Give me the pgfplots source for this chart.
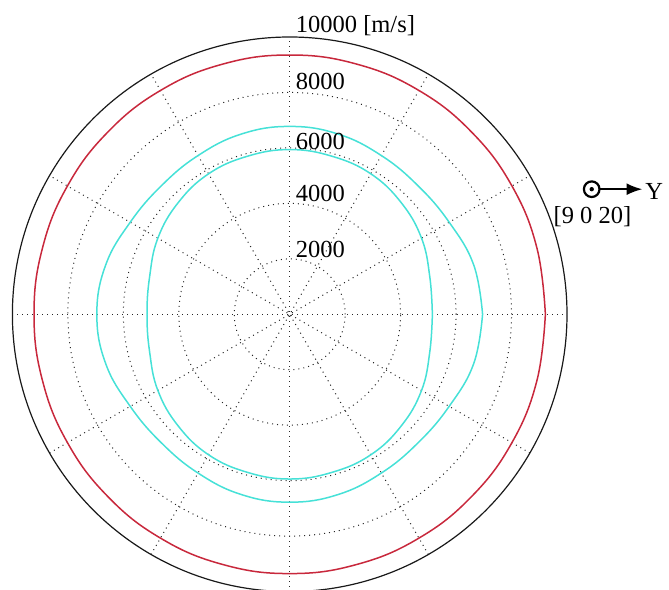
\documentclass[border=0pt]{standalone}
\usepackage{pgfplots}
\usepackage{pgfplotstable}
\pgfplotsset{compat=1.18}
\usetikzlibrary{arrows.meta}
\usepackage{fontspec}
\setmainfont{Liberation Serif}

\definecolor{pwave}{RGB}{200,40,60}
\definecolor{swave}{RGB}{70,225,215}
\tikzset{gridline/.style={black!85, line width=0.5pt, dotted}}

% phase velocities in the plane, angle [deg] vs. speed [m/s]
\pgfplotstableread{
ang   qP     qS1    qS2
0     9220   6955   5145
15    9230   6870   5230
30    9255   6640   5490
45    9285   6550   5690
60    9320   6610   5850
75    9340   6730   5900
90    9350   6775   5940
105   9340   6730   5900
120   9320   6610   5850
135   9285   6550   5690
150   9255   6640   5490
165   9230   6870   5230
180   9220   6955   5145
195   9230   6870   5230
210   9255   6640   5490
225   9285   6550   5690
240   9320   6610   5850
255   9340   6730   5900
270   9350   6775   5940
285   9340   6730   5900
300   9320   6610   5850
315   9285   6550   5690
330   9255   6640   5490
345   9230   6870   5230
360   9220   6955   5145
}\velocities

\begin{document}
\begin{tikzpicture}[x=0.5pt,y=0.5pt]
\begin{axis}[
  at={(144.85pt,137.35pt)}, anchor=origin,
  width=277.3pt, height=277.3pt, scale only axis,
  xmin=-10000, xmax=10000, ymin=-10000, ymax=10000,
  axis lines=none, clip=false,
  % 15-degree steps: a higher tension keeps the curves round between samples
  curve/.style={line width=0.75pt, smooth, tension=0.7},
]
  % radial rings
  \pgfplotsinvokeforeach{2000,4000,6000,8000}{
    \draw[gridline] (axis cs:0,0) circle[radius=#1];
  }
  % spokes every 30 degrees
  \draw[gridline] (axis cs:-10000,0) -- (axis cs:10000,0);
  \draw[gridline] (axis cs:-8660.3,-5000) -- (axis cs:8660.3,5000);
  \draw[gridline] (axis cs:-5000,-8660.3) -- (axis cs:5000,8660.3);
  \draw[gridline] (axis cs:0,-10000) -- (axis cs:0,10000);
  \draw[gridline] (axis cs:5000,-8660.3) -- (axis cs:-5000,8660.3);
  \draw[gridline] (axis cs:8660.3,-5000) -- (axis cs:-8660.3,5000);
  % outer boundary
  \draw[black!90, line width=0.6pt] (axis cs:0,0) circle[radius=10000];

  % (angle, speed) pairs placed in the plane
  \addplot[pwave, curve] table[
    x expr={\thisrow{qP}*cos(\thisrow{ang})},
    y expr={\thisrow{qP}*sin(\thisrow{ang})}] {\velocities};
  \addplot[swave, curve] table[
    x expr={\thisrow{qS1}*cos(\thisrow{ang})},
    y expr={\thisrow{qS1}*sin(\thisrow{ang})}] {\velocities};
  \addplot[swave, curve] table[
    x expr={\thisrow{qS2}*cos(\thisrow{ang})},
    y expr={\thisrow{qS2}*sin(\thisrow{ang})}] {\velocities};
\end{axis}

\begin{scope}[every node/.style={anchor=base west, inner sep=0pt, font=\fontsize{12.25}{14}\selectfont}]
  \node at (295.5,556.3) {10000 [m/s]};
  \node at (295.5,499.7) {8000};
  \node at (295.5,439.0) {6000};
  \node at (295.5,387.3) {4000};
  \node at (295.5,331.7) {2000};
  \node at (553.3,365.5) {[9 0 20]};
  \node at (645.0,389.0) {Y};
\end{scope}

% out-of-plane marker and in-plane direction
\draw[line width=1.1pt] (591.7,399.8) circle[radius=7.8];
\fill (591.7,399.8) circle[radius=2.2];
\draw[line width=1.1pt, -{Latex[length=8pt,width=6pt]}] (599.5,399.8) -- (642.5,399.8);

\pgfresetboundingbox
\path[use as bounding box] (0,0) rectangle (669,589);
\end{tikzpicture}
\end{document}
